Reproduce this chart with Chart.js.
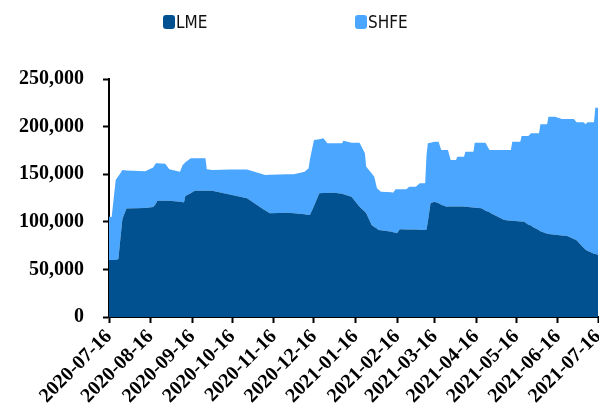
<!DOCTYPE html>
<html>
<head>
<meta charset="utf-8">
<script src="https://cdn.jsdelivr.net/npm/chart.js@4/dist/chart.umd.min.js"></script>
<style>
  body { margin: 0; background: #fff; }
  #wrap { position: relative; width: 599px; height: 412px; }
  .lg { position: absolute; top: 12px; font: 17px 'Liberation Sans Narrow', 'DejaVu Sans Condensed', sans-serif; color: #111; display: flex; align-items: center; }
  .lg span { display: inline-block; width: 12px; height: 14px; border-radius: 3px; margin-right: 1px; }
</style>
</head>
<body>
<div id="wrap">
  <div class="lg" style="left:163px"><span style="background:#01508f"></span>LME</div>
  <div class="lg" style="left:355px"><span style="background:#4aa6fe"></span>SHFE</div>
  <canvas id="chart"></canvas>
</div>
<script>
// days after 2020-07-16
let days = [0, 2, 5, 7, 8, 10, 13, 27, 33, 35, 36, 42, 45, 53, 55, 56, 57, 61, 64, 72,
    73, 77, 91, 103, 116, 117, 120, 133, 138, 146, 149, 150, 153, 157, 160, 163, 168, 174, 175, 181,
    187, 191, 192, 196, 198, 200, 201, 203, 211, 212, 214, 215, 217, 222, 224, 229, 232, 236, 237, 238,
    240, 243, 246, 248, 252, 253, 255, 259, 260, 265, 266, 272, 273, 278, 281, 284, 285, 295, 300, 301,
    307, 308, 310, 313, 315, 316, 321, 322, 326, 327, 328, 333, 338, 342, 347, 349, 350, 354, 356, 357,
    362, 363, 365];

let lme = [60000, 60000, 60000, 61000, 75000, 103000, 114000, 114500, 115500, 119000, 122000, 122000, 122000, 121000, 120500, 120500, 127000, 130000, 132700, 132700,
    132700, 132700, 128500, 124700, 112400, 111500, 108900, 109500, 109000, 107800, 107100, 107100, 116600, 129900, 130200, 130300, 130500, 129500, 129000, 126400,
    115900, 110500, 108900, 96600, 94500, 93000, 91400, 91000, 89600, 89000, 88500, 87900, 92100, 92000, 92000, 91800, 91600, 91400, 92000, 100000,
    119400, 121100, 119500, 118000, 115900, 116000, 116000, 116000, 116000, 116000, 115800, 115000, 114800, 114200, 111500, 110000, 108900, 101900, 101200, 101000,
    100400, 100200, 100100, 97000, 96000, 94900, 91000, 90000, 87900, 87500, 87200, 86300, 85500, 85100, 82000, 80500, 79100, 73000, 70400, 69500,
    66500, 66200, 65500];

let shfe = [45300, 45000, 84000, 87000, 75000, 51400, 40000, 38500, 41500, 42400, 39400, 39000, 33100, 31600, 39200, 40500, 35500, 36700, 34000, 34000,
    22400, 21800, 26500, 30300, 37100, 37700, 40600, 40400, 41000, 44800, 49100, 58500, 69300, 56900, 57500, 52100, 51900, 52900, 56200, 56700,
    67200, 61400, 49000, 54400, 52900, 42200, 42600, 40600, 41400, 41600, 45600, 46200, 42000, 42100, 44900, 45100, 48800, 49000, 78000, 82400,
    63600, 63000, 64600, 57400, 59500, 59400, 48900, 48900, 52400, 52400, 57800, 58600, 68300, 68900, 71600, 65400, 66500, 73500, 74200, 83100,
    83700, 89900, 90000, 93100, 97000, 98100, 102000, 112400, 114500, 114900, 123200, 124100, 122500, 122900, 126000, 124000, 125400, 131500, 132000, 135000,
    138000, 153600, 154300];

let tickDays = [0, 31, 62, 92, 123, 153, 184, 215, 243, 274, 304, 335, 365];
let tickLabels = ['2020-07-16', '2020-08-16', '2020-09-16', '2020-10-16', '2020-11-16', '2020-12-16',
    '2021-01-16', '2021-02-16', '2021-03-16', '2021-04-16', '2021-05-16', '2021-06-16', '2021-07-16'];

let tickFont = {family: "'Liberation Serif', 'Times New Roman', serif", size: 20, weight: 'bold'};

new Chart(document.getElementById('chart'), {
    type: 'line',
    data: {
        datasets: [{
            label: 'LME',
            data: days.map((d, i) => ({x: d, y: lme[i]})),
            backgroundColor: '#01508f',
            borderWidth: 0,
            pointRadius: 0,
            fill: 'origin'
        }, {
            label: 'SHFE',
            data: days.map((d, i) => ({x: d, y: shfe[i]})),
            backgroundColor: '#4aa6fe',
            borderWidth: 0,
            pointRadius: 0,
            fill: '-1'
        }]
    },
    options: {
        responsive: true,
        maintainAspectRatio: false,
        animation: false,
        layout: {padding: {top: 79, left: 0, right: 0, bottom: 0}},
        plugins: {legend: {display: false}, tooltip: {enabled: false}},
        scales: {
            x: {
                type: 'linear',
                min: 0,
                max: 365,
                afterBuildTicks: (scale) => {
                    scale.ticks = tickDays.map((v) => ({value: v}));
                },
                afterFit: (scale) => {
                    scale.height = 95;
                    scale.paddingRight = 1;
                },
                ticks: {
                    autoSkip: false,
                    maxRotation: 45,
                    minRotation: 45,
                    padding: 2,
                    color: '#000',
                    font: tickFont,
                    callback: (value, index) => tickLabels[index]
                },
                grid: {drawOnChartArea: false, tickLength: 6, tickColor: '#000', tickWidth: 2},
                border: {color: '#000', width: 2}
            },
            y: {
                stacked: true,
                min: 0,
                max: 250000,
                ticks: {
                    stepSize: 50000,
                    padding: 19,
                    color: '#000',
                    font: tickFont,
                    callback: (value) => value.toLocaleString('en-US')
                },
                grid: {drawOnChartArea: false, tickLength: 6, tickColor: '#000', tickWidth: 2},
                border: {color: '#000', width: 2}
            }
        }
    }
});
</script>
</body>
</html>
